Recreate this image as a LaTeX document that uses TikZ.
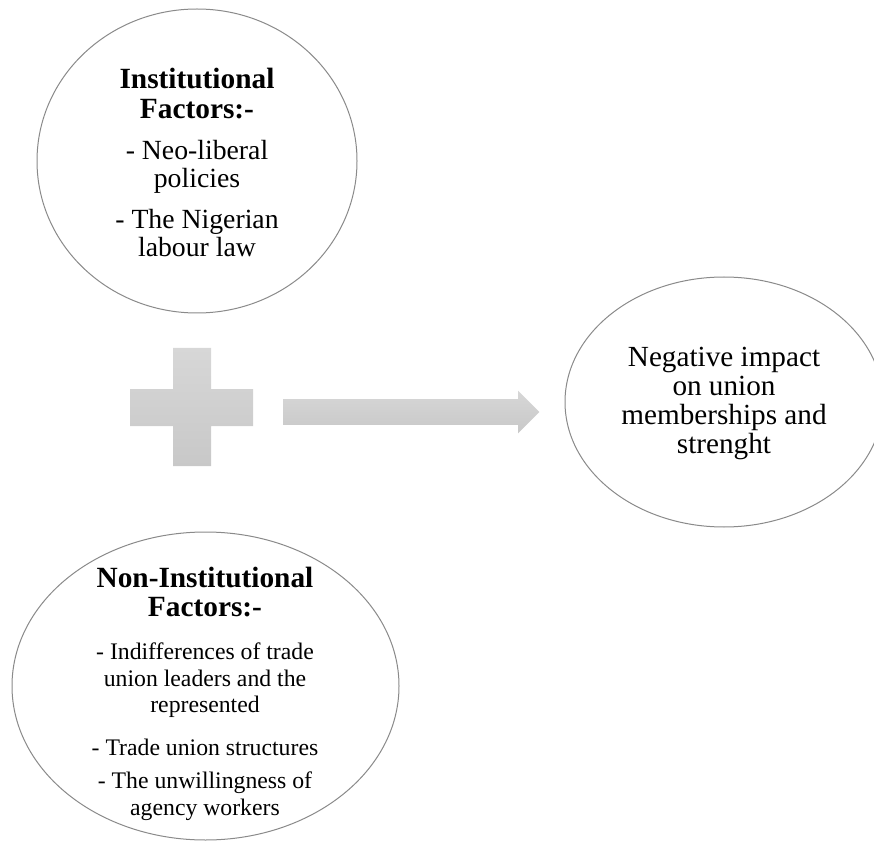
\documentclass[tikz,border=0pt]{standalone}
\usepackage{fontspec}
\setmainfont{Liberation Serif}
\usepackage{tikz}
\usetikzlibrary{shapes.geometric,shapes.arrows}
\definecolor{blocktop}{HTML}{D7D7D7}
\definecolor{blockbot}{HTML}{C8C8C8}
\definecolor{rim}{HTML}{8A8A8A}
\newcommand{\ttl}{\bfseries\fontsize{22}{21.75}\selectfont}

\begin{document}
\begin{tikzpicture}[x=0.75pt,y=-0.75pt,
    bubble/.style={ellipse, draw=rim, line width=0.75pt, fill=white, inner sep=0pt},
    words/.style={align=center, inner sep=0pt},
    block/.style={top color=blocktop, bottom color=blockbot, draw=none}]
    \useasboundingbox (0,0) rectangle (874,841);

    \draw node at (197,161)[name=inst, bubble, minimum width=240pt, minimum height=228pt]{};
    \draw node at (205.5,686)[name=noninst, bubble, minimum width=290.25pt, minimum height=231pt]{};
    \draw node at (724,402)[name=impact, bubble, minimum width=238.5pt, minimum height=187.5pt]{};

    \draw node at (197,162)[name=instT, words, font=\fontsize{20.8}{21}\selectfont]
      {{\ttl Institutional}\\[1.5pt]{\ttl Factors:-}\\[9.75pt]- Neo-liberal\\policies\\[9.75pt]- The Nigerian\\labour law};
    \draw node at (205,694)[name=noninstT, words, font=\fontsize{17.8}{20}\selectfont]
      {{\ttl Non-Institutional}\\[1.75pt]{\ttl Factors:-}\\[12.25pt]- Indifferences of trade\\union leaders and the\\represented\\[12.25pt]- Trade union structures\\[4.75pt]- The unwillingness of\\agency workers};
    \draw node at (724,403)[name=impactT, words, font=\fontsize{21.9}{21.75}\selectfont]
      {Negative impact\\on union\\memberships and\\strenght};

    \shade[block] (173,348) -- (211,348) -- (211,389) -- (253,389) -- (253,426) -- (211,426)
      -- (211,466) -- (173,466) -- (173,426) -- (130,426) -- (130,389) -- (173,389) -- cycle;
    \draw node at (283,412)[name=flow, block, single arrow, anchor=west, minimum height=192pt,
      inner xsep=0pt, inner ysep=9.375pt, single arrow head extend=6.375pt]{};
\end{tikzpicture}
\end{document}
